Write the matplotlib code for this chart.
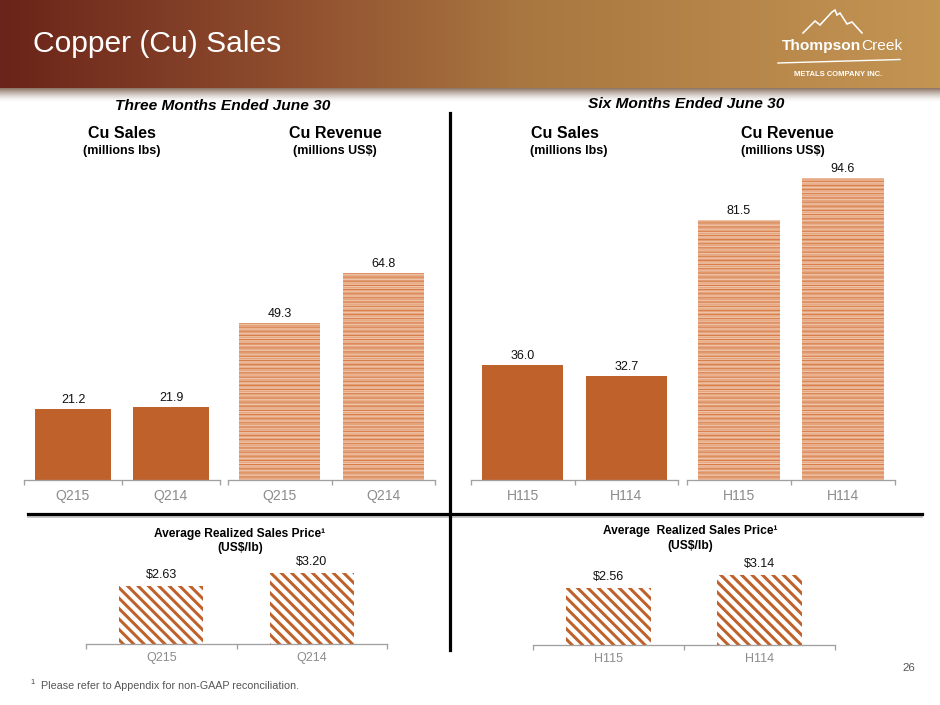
import numpy as np
import matplotlib
matplotlib.use("Agg")
import matplotlib.pyplot as plt
from matplotlib.colors import LinearSegmentedColormap

plt.rcParams['font.family'] = ['Liberation Sans', 'DejaVu Sans']

# --- data ---
q_cats = ['Q215', 'Q214']
q_sales = [21.2, 21.9]        # millions lbs
q_revenue = [49.3, 64.8]      # millions US$
q_price = [2.63, 3.20]        # US$/lb

h_cats = ['H115', 'H114']
h_sales = [36.0, 32.7]
h_revenue = [81.5, 94.6]
h_price = [2.56, 3.14]

W, H = 940, 705
DPI = 125
PT = DPI / 72.0           # pixels per point
ORANGE = '#bf612b'
GRAY_TXT = '#8c8c8c'
GRAY_AX = '#a0a0a0'


def px(v):
    return v / PT


fig = plt.figure(figsize=(W / DPI, H / DPI), dpi=DPI)
bg = fig.add_axes([0, 0, 1, 1])
bg.set_xlim(0, W)
bg.set_ylim(H, 0)
bg.axis('off')

# header band
head_cmap = LinearSegmentedColormap.from_list(
    'head', [(0, '#6a2419'), (0.3, '#8f4d2e'), (0.55, '#a87640'), (1, '#c39553')])
bg.imshow(np.linspace(0, 1, 256)[None, :], cmap=head_cmap, aspect='auto',
          extent=(0, W, 88, 0), zorder=0)
shadow = np.zeros((40, 1, 4))
shadow[:, 0, 0] = 0.42
shadow[:, 0, 1] = 0.30
shadow[:, 0, 2] = 0.22
shadow[:, 0, 3] = np.linspace(0.85, 0, 40) ** 1.5
bg.imshow(shadow, aspect='auto', extent=(0, W, 102, 88), zorder=0)
bg.set_xlim(0, W)
bg.set_ylim(H, 0)

bg.text(33, 44, 'Copper (Cu) Sales', color='white', fontsize=px(30),
        ha='left', va='center')

# logo
mx = [803, 815, 820, 832, 835, 837, 840, 847, 852, 862]
my = [33, 21, 25, 12, 10, 15, 13, 24, 22, 33]
bg.plot(mx, my, color='white', lw=px(1.6), solid_joinstyle='miter')
bg.text(861, 46, 'Thompson', color='white', fontsize=px(15.5), weight='bold',
        ha='right', va='center')
bg.text(861, 46, 'Creek', color='white', fontsize=px(15.5), ha='left', va='center')
sx = np.linspace(778, 900, 50)
bg.plot(sx, 63 - 3.5 * (sx - 778) / 122, color='white', lw=px(1.4))
bg.text(838, 74, 'METALS COMPANY INC.', color='white', fontsize=px(7.6),
        weight='bold', ha='center', va='center')

# section headings
bold_it = dict(weight='bold', style='italic', fontsize=px(15.5), ha='center', va='center')
bg.text(223, 106, 'Three Months Ended June 30', **bold_it)
bg.text(686, 104, 'Six Months Ended June 30', **bold_it)

hd = dict(weight='bold', fontsize=px(16), va='center')
sub = dict(weight='bold', fontsize=px(12.5), va='center')
bg.text(122, 133, 'Cu Sales', ha='center', **hd)
bg.text(122, 151, '(millions lbs)', ha='center', **sub)
bg.text(335, 133, 'Cu Revenue', ha='center', **hd)
bg.text(335, 151, '(millions US$)', ha='center', **sub)
bg.text(531, 133, 'Cu Sales', ha='left', **hd)
bg.text(530, 151, '(millions lbs)', ha='left', **sub)
bg.text(741, 133, 'Cu Revenue', ha='left', **hd)
bg.text(741, 151, '(millions US$)', ha='left', **sub)

pt_ = dict(weight='bold', fontsize=px(12), ha='center', va='center')
bg.text(240, 534, 'Average Realized Sales Price\u00b9', **pt_)
bg.text(240, 548, '(US$/lb)', **pt_)
bg.text(690, 531, 'Average  Realized Sales Price\u00b9', **pt_)
bg.text(690, 546, '(US$/lb)', **pt_)

# divider lines
bg.plot([28, 922], [516.5, 516.5], color='#c8c8c8', lw=px(2), zorder=1)
bg.plot([28, 922], [514, 514], color='black', lw=px(3.2), zorder=2)
bg.plot([450, 450], [113, 650], color='black', lw=px(3.2), zorder=2)

# footnote / page number
bg.text(30, 683, '1', fontsize=px(7.5), color='#444444', ha='left', va='center')
bg.text(41, 686, 'Please refer to Appendix for non-GAAP reconciliation.',
        fontsize=px(10.8), color='#555555', ha='left', va='center')
bg.text(915, 668, '26', fontsize=px(11.5), color='#555555', ha='right', va='center')


def set_hatch_lw(bars, lw):
    for b in bars:
        if hasattr(b, 'set_hatch_linewidth'):
            b.set_hatch_linewidth(lw)


def panel(x0, x1, y_top, y_bot, cats, vals, ppu, style, fmt,
          lab_px, tick_px, pad_px, width, lab_off):
    ax = fig.add_axes([x0 / W, 1 - y_bot / H, (x1 - x0) / W, (y_bot - y_top) / H])
    ax.set_facecolor('none')
    x = np.arange(len(cats))
    if style == 'solid':
        bars = ax.bar(x, vals, width, color=ORANGE, lw=0)
    elif style == 'stripes':
        with plt.rc_context({'hatch.linewidth': px(0.9)}):
            bars = ax.bar(x, vals, width, facecolor='#f2cbb1', edgecolor='#e39f76',
                          hatch='-' * 12, lw=0)
        set_hatch_lw(bars, px(0.9))
        with plt.rc_context({'hatch.linewidth': px(1.0)}):
            over = ax.bar(x, vals, width, facecolor='none', edgecolor='#d77a45',
                          hatch='-' * 5, lw=0)
        set_hatch_lw(over, px(1.0))
    else:
        with plt.rc_context({'hatch.linewidth': px(3.0)}):
            bars = ax.bar(x, vals, width, facecolor='white', edgecolor=ORANGE,
                          hatch='\\' * 4, lw=0)
        set_hatch_lw(bars, px(3.0))
    for b, v in zip(bars, vals):
        ax.annotate(fmt.format(v), (b.get_x() + b.get_width() / 2, v),
                    xytext=(0, px(lab_off)), textcoords='offset points',
                    ha='center', va='bottom', fontsize=px(lab_px), color='#111111')
    ax.set_xlim(-0.5, len(cats) - 0.5)
    ax.set_ylim(0, (y_bot - y_top) / ppu)
    ax.set_xticks(x)
    ax.set_xticklabels(cats)
    ax.set_xticks(np.arange(len(cats) + 1) - 0.5, minor=True)
    ax.tick_params(axis='x', which='major', length=0, pad=px(pad_px),
                   labelsize=px(tick_px), labelcolor=GRAY_TXT)
    ax.tick_params(axis='x', which='minor', length=px(4.5), width=px(1.3),
                   color=GRAY_AX, direction='out')
    ax.set_yticks([])
    for s in ['left', 'right', 'top']:
        ax.spines[s].set_visible(False)
    ax.spines['bottom'].set_color(GRAY_AX)
    ax.spines['bottom'].set_linewidth(px(1.3))
    return ax


# top panels
panel(24, 220, 150, 480, q_cats, q_sales, 3.34, 'solid', '{:.1f}', 12.5, 14, 9, 0.78, 3)
panel(228, 435, 150, 480, q_cats, q_revenue, 3.19, 'stripes', '{:.1f}', 12.5, 14, 9, 0.78, 3)
panel(471, 678, 150, 480, h_cats, h_sales, 3.19, 'solid', '{:.1f}', 12.5, 14, 9, 0.78, 3)
panel(687, 895, 150, 480, h_cats, h_revenue, 3.19, 'stripes', '{:.1f}', 12.5, 14, 9, 0.78, 3)

# bottom panels
panel(86, 387, 560, 644, q_cats, q_price, 22.1, 'diag', '${:.2f}', 12.5, 12.5, 7.5, 0.56, 5)
panel(533, 835, 560, 645, h_cats, h_price, 22.3, 'diag', '${:.2f}', 12.5, 12.5, 7.5, 0.56, 5)

fig.savefig('out.png', dpi=DPI)
